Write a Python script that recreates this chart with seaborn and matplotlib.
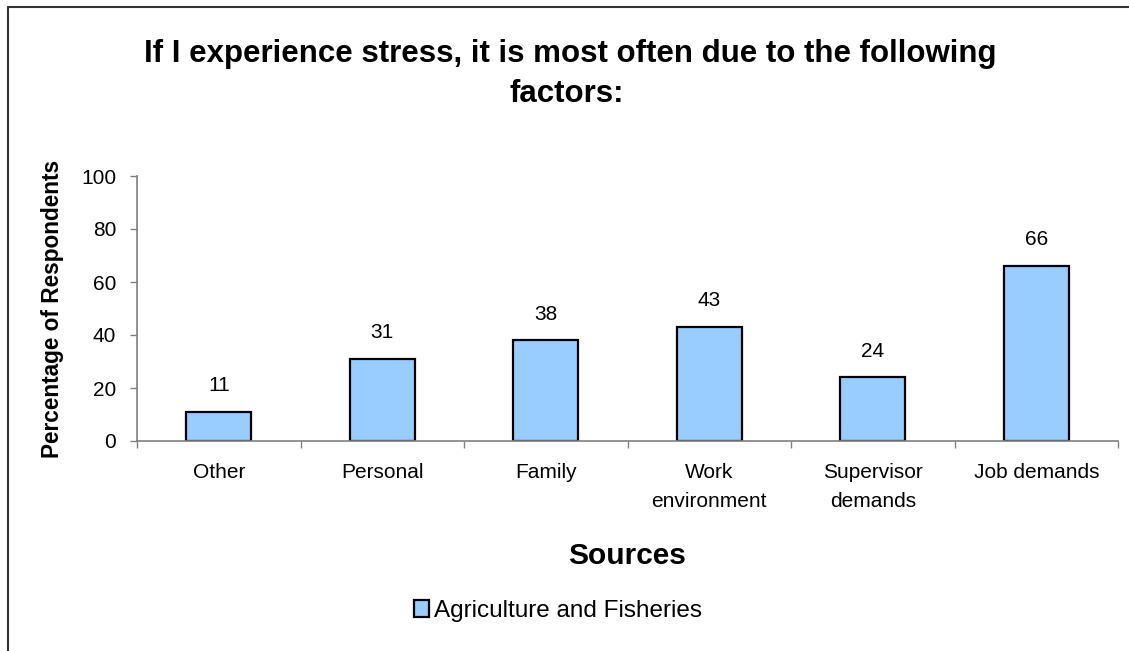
import matplotlib
matplotlib.use("Agg")
import matplotlib.pyplot as plt
from matplotlib.lines import Line2D
import seaborn as sb

# Datos
sources = ["Other", "Personal", "Family", "Work\nenvironment", "Supervisor\ndemands", "Job demands"]
percent = [11, 31, 38, 43, 24, 66]
series_name = "Agriculture and Fisheries"

sb.set_style("white")
plt.rcParams['font.family'] = ['Liberation Sans', 'DejaVu Sans']
plt.rcParams['text.color'] = 'black'
plt.rcParams['axes.labelcolor'] = 'black'

fig = plt.figure(figsize=(11.29, 6.51), dpi=100)
ax = fig.add_axes([137/1129, 1 - 441/651, 981/1129, 265/651])

sb.barplot(x=sources, y=percent, color="#99CCFF", edgecolor="black",
           linewidth=1.6, width=0.4, saturation=1, ax=ax, label=series_name)

# etiquetas de valor sobre las barras
for i, v in enumerate(percent):
    ax.annotate(str(v), (i, v), xytext=(0, 12), textcoords="offset points",
                ha="center", va="bottom", fontsize=15)

ax.set_ylim(0, 100)
ax.set_xlim(-0.5, len(sources) - 0.5)
ax.set_yticks(range(0, 101, 20))
ax.tick_params(axis="y", labelsize=15, length=5, width=1, color="#808080",
               labelcolor="black", direction="out", pad=10, left=True)
ax.tick_params(axis="x", which="major", labelsize=15, length=0, pad=16,
               labelcolor="black")
for lbl in ax.get_xticklabels():
    lbl.set_linespacing(1.65)
ax.set_xticks([i + 0.5 for i in range(-1, len(sources))], minor=True)
ax.tick_params(axis="x", which="minor", length=5, width=1, color="#808080",
               direction="out", bottom=True)

for s in ["top", "right"]:
    ax.spines[s].set_visible(False)
for s in ["left", "bottom"]:
    ax.spines[s].set_color("#808080")
    ax.spines[s].set_linewidth(1.2)

ax.set_xlabel("Sources", fontsize=21.5, fontweight="bold", labelpad=22)
ax.set_ylabel("Percentage of Respondents", fontsize=16.3, fontweight="bold", labelpad=12)

fig.text(0.505, 1 - 62/651, "If I experience stress, it is most often due to the following",
         ha="center", va="baseline", fontsize=22.5, fontweight="bold")
fig.text(0.502, 1 - 102/651, "factors:",
         ha="center", va="baseline", fontsize=22.5, fontweight="bold")

ax.legend(loc="center", bbox_to_anchor=(558/1129, 1 - 611/651),
          bbox_transform=fig.transFigure, frameon=False, fontsize=17.5,
          handlelength=0.65, handleheight=0.65, handletextpad=0.2)

# marco del grafico
fig.add_artist(Line2D([8/1129, 1], [1 - 7/651, 1 - 7/651], color="#333333", lw=1.5))
fig.add_artist(Line2D([8/1129, 8/1129], [0, 1 - 7/651], color="#333333", lw=1.5))

fig.savefig("out.png", dpi=100)
